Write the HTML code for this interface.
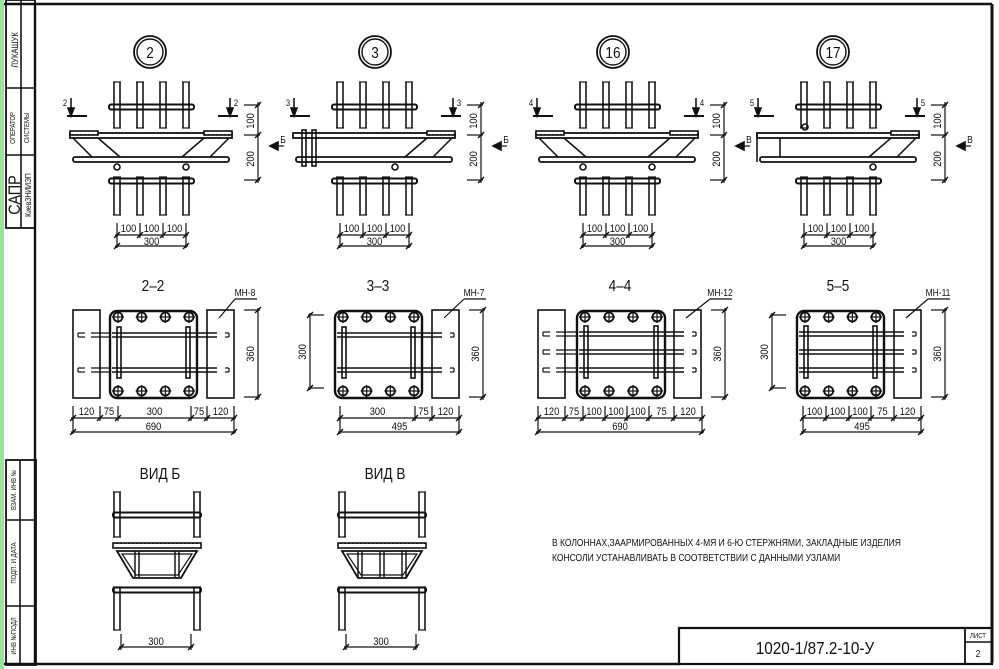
<!DOCTYPE html>
<html><head><meta charset="utf-8">
<style>
html,body{margin:0;padding:0;background:#fff;}
svg{display:block}
text{font-family:"Liberation Sans","DejaVu Sans",sans-serif;fill:#111}
</style></head>
<body>
<svg id="s" width="999" height="669" viewBox="0 0 999 669" xmlns="http://www.w3.org/2000/svg">
<defs>
<pattern id="h" width="4" height="6" patternUnits="userSpaceOnUse"><rect width="4" height="6" fill="#fff"/><rect x="0" y="2" width="2" height="2" fill="#222"/></pattern>
</defs>
<rect x="0" y="0" width="4" height="669" fill="#9be39b"/>
<g id="g" stroke="#111" fill="none" stroke-width="1.6"></g>
<g id="t"></g>
</svg>
<script>
const g=document.getElementById('g'),T=document.getElementById('t'),NS='http://www.w3.org/2000/svg';
function el(n,a,p){const e=document.createElementNS(NS,n);for(const k in a)e.setAttribute(k,a[k]);(p||g).appendChild(e);return e;}
function L(x1,y1,x2,y2,w){el('line',{x1,y1,x2,y2,'stroke-width':(w||1.3)*1.2});}
function R(x,y,w,h,o){const a={x,y,width:w,height:h};Object.assign(a,o||{});el('rect',a);}
function tx(x,y,s,sz,o){const a={x,y,'font-size':sz||11,'text-anchor':'middle'};Object.assign(a,o||{});
 if(!a.transform){a.transform=`translate(${x} 0) scale(0.85 1) translate(${-x} 0)`;}
 const e=el('text',a,T);e.textContent=s;return e;}
function rt(x,y,s,sz){tx(x,y,s,sz||10,{transform:`rotate(-90 ${x} ${y}) translate(${x} 0) scale(0.85 1) translate(${-x} 0)`});}
function tick(x,y){L(x-3,y+3,x+3,y-3,1.2);}
function hdim(xs,y,labels,ext){L(xs[0]-2,y,xs[xs.length-1]+2,y,1);xs.forEach(x=>{L(x,y-(ext||12),x,y+3,1);tick(x,y);});labels.forEach((s,i)=>tx((xs[i]+xs[i+1])/2,y-3,s,11));}
function vdim(){}
// frame
L(4,4,992,4,2);L(992,4,992,663,2.5);L(35,4,35,664,2);L(4,664,680,664,2);
// left stamps
R(6,0,29,228,{'stroke-width':1.8});L(21,0,21,228);L(6,88,35,88);L(6,155,35,155);
R(6,460,30,205,{'stroke-width':1.8});L(20,460,20,665);L(6,520,36,520);L(6,606,36,606);
rt(18,50,'ЛУКАШУК',9);rt(15,128,'ОПЕРАТОР',7);rt(29,128,'СИСТЕМЫ',7);
rt(20,195,'САПР',17);rt(31,195,'КиевЗНИИЭП',8);
rt(16,490,'ВЗАМ. ИНВ №',7);rt(16,563,'ПОДП. И ДАТА',7);rt(16,636,'ИНВ №ПОДЛ',7);
// title block
R(679,628,313,36,{'stroke-width':2.2});L(965,628,965,664,1.5);L(965,642,992,642,1.2);
tx(978,638,'ЛИСТ',7);tx(978,657,'2',10);tx(815,654,'1020-1/87.2-10-У',18);
// nodes
function bar(x,y1,y2){L(x-3,y1,x-3,y2);L(x+3,y1,x+3,y2);L(x-4,y1,x+4,y1,1);L(x-4,y2,x+4,y2,1);}
function hbar(x1,x2,y){R(x1,y-2.5,x2-x1,5,{rx:2,'stroke-width':2});}
function node(cx,bx,num,lab,arr,type){
 el('circle',{cx,cy:52,r:16,'stroke-width':1.8});el('circle',{cx,cy:52,r:13,'stroke-width':1.4});tx(cx,58,num,16);
 const xs=[0,23,46,69].map(d=>bx+d);
 xs.forEach(x=>{bar(x,82,128);bar(x,177,215);});
 hbar(bx-8,bx+77,107);hbar(bx-8,bx+77,181);
 const pl=bx-47,pr=bx+115;
 tx(bx-52,106,lab,9);L(bx-46,98,bx-46,114);el('path',{d:`M${bx-49} 108 L${bx-46} 116 L${bx-43} 108Z`,fill:'#111'});L(bx-50,116,bx-30,116,1.6);
 tx(pr+4,106,lab,9);L(pr-2,98,pr-2,114);el('path',{d:`M${pr-5} 108 L${pr-2} 116 L${pr+1} 108Z`,fill:'#111'});L(pr-14,116,pr+6,116,1.6);
 R(pl,133,pr-pl,5,{'stroke-width':1.8});R(pl+3,157,pr-pl-6,5,{rx:2,'stroke-width':1.8});
 R(pr-28,131,28,4,{fill:'url(#h)'});
 L(pr-28,138,pr-50,157);L(pr-3,138,pr-22,157);
 if(type==0){R(pl,131,28,4,{fill:'url(#h)'});L(pl+3,138,pl+22,157);L(pl+28,138,pl+50,157);
   el('circle',{cx:bx,cy:167,r:3});el('circle',{cx:bx+69,cy:167,r:3});}
 else if(type==1){R(pl+9,130,4,36);R(pl+19,130,4,36);el('circle',{cx:bx+55,cy:167,r:3});}
 else {L(pl,133,pl,162);L(pl+23,138,pl+23,157);el('circle',{cx:bx+1,cy:127,r:3});el('circle',{cx:bx+69,cy:167,r:3});}
 const dx=pr+26;L(dx,102,dx,183,1);[105,135,180].forEach(y=>{L(dx-14,y,dx+2,y,1);tick(dx,y);});
 rt(dx-4,121,'100',11);rt(dx-4,159,'200',11);
 el('path',{d:`M${dx+12} 146 L${dx+20} 142 L${dx+20} 150Z`,fill:'#111'});L(dx+20,146,dx+26,146,1);tx(dx+25,143,arr,10);
 hdim(xs.slice(0,4),235,['100','100','100']);L(xs[0],235,xs[0],248,1);L(xs[3],235,xs[3],248,1);
 L(xs[0]-2,246,xs[3]+2,246,1);tick(xs[0],246);tick(xs[3],246);tx((xs[0]+xs[3])/2,245,'300',11);
}
node(150,117,'2','2','Б',0);node(375,340,'3','3','Б',1);node(613,583,'16','4','В',0);node(833,804,'17','5','В',2);
function block(x){R(x,310,27,88);}
function sect(title,tx0,box,blocks,rows,mh,mx,dimxs,dimlab,tot,leftdim){
 tx(tx0,291,title,16);
 blocks.forEach(block);
 R(box[0],311,box[1]-box[0],87,{rx:7,'stroke-width':2.4});
 const w=box[1]-box[0];
 [0,1,2,3].forEach(i=>{const cx=box[0]+8+i*(w-16)/3;[317,391].forEach(cy=>{el('circle',{cx,cy,r:4.5,'stroke-width':1.8});L(cx-6,cy,cx+6,cy,1);L(cx,cy-6,cx,cy+6,1);});});
 const br=blocks[blocks.length-1]+22;
 rows.forEach(y=>{L(box[0]+2,y-2,br-12,y-2,1.2);L(box[0]+2,y+2,br-12,y+2,1.2);
   if(blocks.length>1){L(blocks[0]+5,y-2,blocks[0]+12,y-2,1);L(blocks[0]+5,y+2,blocks[0]+12,y+2,1);L(blocks[0]+18,y-2,box[0],y-2,1);L(blocks[0]+18,y+2,box[0],y+2,1);L(blocks[0]+5,y-2,blocks[0]+5,y+2,1);}
   const b=blocks[blocks.length-1];L(b+18,y-2,b+22,y-2,1);L(b+22,y-2,b+22,y+2,1);L(b+18,y+2,b+22,y+2,1);});
 R(box[0]+7,rows[0]-8,4,rows[rows.length-1]-rows[0]+16);R(box[1]-11,rows[0]-8,4,rows[rows.length-1]-rows[0]+16);
 tx(mx,296,mh,10);L(mx-10,299,mx+12,299,1);L(mx-10,299,blocks[blocks.length-1]+12,318,1);
 const vx=blocks[blocks.length-1]+51;L(vx,308,vx,400,1);[310,397].forEach(y=>{L(vx-14,y,vx+2,y,1);tick(vx,y);});rt(vx-4,354,'360',11);
 if(leftdim){const lx=box[0]-25;L(lx,313,lx,390,1);[315,388].forEach(y=>{L(lx-2,y,lx+14,y,1);tick(lx,y);});rt(lx-4,352,'300',11);}
 hdim(dimxs,418,dimlab);L(dimxs[0],418,dimxs[0],434,1);const e=dimxs[dimxs.length-1];L(e,418,e,434,1);
 L(dimxs[0]-2,432,e+2,432,1);tick(dimxs[0],432);tick(e,432);tx((dimxs[0]+e)/2,430,tot,11);
}
sect('2–2',153,[110,197],[73,207],[335,370],'МН-8',245,[73,100,118,191,207,234],['120','75','300','75','120'],'690',false);
sect('3–3',378,[335,422],[432],[335,370],'МН-7',474,[340,415,432,459],['300','75','120'],'495',true);
sect('4–4',620,[577,665],[538,674],[334,352,370],'МН-12',720,[538,565,583,605,627,649,674,702],['120','75','100','100','100','75','120'],'690',false);
sect('5–5',838,[797,884],[894],[334,352,370],'МН-11',938,[803,826,849,871,894,921],['100','100','100','75','120'],'495',true);
function view(x0,title,inner){
 tx(x0+43,479,title,16);
 [x0,x0+80].forEach(x=>{bar(x,492,537);bar(x,587,630);});
 hbar(x0-4,x0+84,515);hbar(x0-4,x0+84,590);
 R(x0-4,543,88,5,{fill:'url(#h)'});
 el('path',{d:`M${x0} 551 L${x0+80} 551 L${x0+64} 578 L${x0+16} 578Z`,'stroke-width':1.8});
 el('path',{d:`M${x0+5} 554 L${x0+75} 554 L${x0+61} 575 L${x0+19} 575Z`,'stroke-width':1.2});
 inner.forEach(d=>{L(x0+d-2,551,x0+d-2,577,1.2);L(x0+d+2,551,x0+d+2,577,1.2);});
 L(x0+4,634,x0+4,650,1);L(x0+74,634,x0+74,650,1);L(x0+2,647,x0+76,647,1);tick(x0+4,647);tick(x0+74,647);tx(x0+39,645,'300',11);
}
view(117,'ВИД  Б',[20,60]);view(342,'ВИД  В',[18,40,62]);
tx(552,546,'В КОЛОННАХ,ЗААРМИРОВАННЫХ 4-МЯ И 6-Ю СТЕРЖНЯМИ, ЗАКЛАДНЫЕ  ИЗДЕЛИЯ',10,{'text-anchor':'start'});
tx(552,561,'КОНСОЛИ УСТАНАВЛИВАТЬ В СООТВЕТСТВИИ С ДАННЫМИ УЗЛАМИ',10,{'text-anchor':'start'});
</script>
</body></html>
